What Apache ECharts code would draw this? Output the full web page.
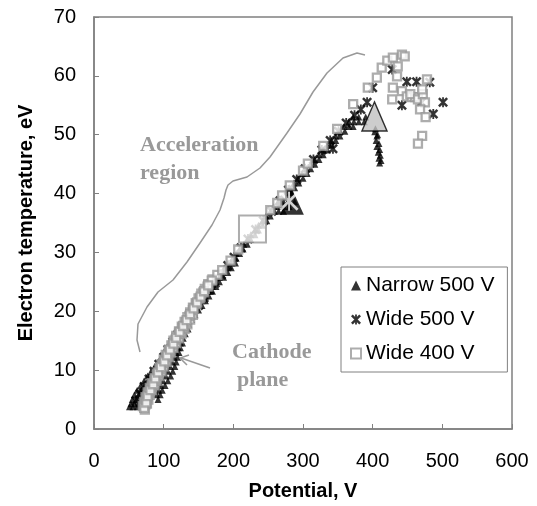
<!DOCTYPE html>
<html><head><meta charset="utf-8">
<script src="https://cdn.jsdelivr.net/npm/echarts@6/dist/echarts.min.js"></script>
<style>html,body{margin:0;padding:0;background:#fff}#c{width:537px;height:506px}</style>
</head><body><div id="c"></div>
<script>
// ---- axis settings ----
const xMin = 0, xMax = 600, xStep = 100;
const yMin = 0, yMax = 70, yStep = 10;
const seriesNames = ['Narrow 500 V', 'Wide 500 V', 'Wide 400 V'];

// ---- data: [potential V, electron temperature eV] ----
const narrow500 = [
[51,3.8],[56,3.8],[62,3.8],
[53,4.3],[58,4.3],[64,4.3],[70,4.3],
[55,5.0],[61,5.0],[67,5.0],[73,5.0],[92,5.0],
[58,5.8],[64,5.8],[70,5.8],[90,5.8],[95,5.8],
[62,6.6],[68,6.6],[74,6.6],[93,6.6],[98,6.6],
[67,7.4],[73,7.4],[79,7.4],[96,7.4],[102,7.4],
[72,8.2],[78,8.2],[84,8.2],[99,8.2],[106,8.2],
[77,9.0],[83,9.0],[88,9.0],[103,9.0],[110,9.0],
[82,9.8],[88,9.8],[93,9.8],[106,9.8],[113,9.8],
[87,10.6],[92,10.6],[97,10.6],[109,10.6],[116,10.6],
[92,11.4],[96,11.4],[101,11.4],[112,11.4],[118,11.4],
[96,12.2],[100,12.2],[105,12.2],[115,12.2],[120,12.2],
[100,13.0],[104,13.0],[109,13.0],[118,13.0],[122,13.0],
[104,13.8],[108,13.8],[113,13.8],[121,13.8],[124,13.8],
[108,14.6],[112,14.6],[117,14.6],[124,14.6],[127,14.6],
[112,15.4],[116,15.4],[121,15.4],[128,15.4],
[117,16.2],[121,16.2],[126,16.2],[131,16.2],
[122,17.0],[126,17.0],[131,17.0],[135,17.0],
[127,17.8],[131,17.8],[136,17.8],
[131,18.6],[135,18.6],[140,18.6],
[136,19.4],[140,19.4],[145,19.4],
[141,20.2],[145,20.2],[150,20.2],
[145,21.0],[150,21.0],[155,21.0],
[150,21.8],[155,21.8],[160,21.8],
[155,22.6],[160,22.6],[165,22.6],
[160,23.4],[165,23.4],[170,23.4],
[165,24.2],[170,24.2],[175,24.2],
[170,25.0],[175,25.0],[180,25.0],
[175,25.8],[180,25.8],[186,25.8],
[181,26.6],[186,26.6],[192,26.6],
[187,27.4],[192,27.4],[197,27.4],
[193,28.2],[198,28.2],[203,28.2],
[199,29.0],[204,29.0],[204,29.8],[209,29.8],
[209,30.6],[214,30.6],[215,31.4],[220,31.4],
[220,32.2],[225,32.2],[225,33.0],[231,33.0],
[231,33.8],[236,33.8],[236,34.6],[242,34.6],
[242,35.4],[248,35.4],[247,36.2],[253,36.2],
[253,37.0],[259,37.0],[265,37.0],[272,37.0],
[258,37.8],[265,37.8],[272,37.8],[280,37.8],
[264,38.6],[272,38.6],[280,38.6],[288,38.6],
[270,39.4],[278,39.4],[276,40.2],[283,40.2],
[281,41.0],[288,41.0],[287,41.8],[294,41.8],
[293,42.6],[300,42.6],[299,43.4],[306,43.4],
[305,44.2],[311,44.2],[311,45.0],[317,45.0],
[317,45.8],[323,45.8],[323,46.6],[329,46.6],
[329,47.4],[335,47.4],[335,48.2],[341,48.2],
[341,49.0],[347,49.0],[347,49.8],[353,49.8],
[353,50.6],[360,50.6],[359,51.4],[366,51.4],[372,51.4],
[366,52.2],[373,52.2],[380,52.2],[388,52.2],
[372,53.0],[380,53.0],[390,53.0],
[403,50.5],[406,49.8],[404,51.0],[407,50.0],[405,49.0],[409,48.5],
[406,48.0],[410,47.5],[408,47.0],[411,46.5],[409,46.0],[412,45.6],[410,45.2]
];

const wide500 = [
[60,4.8],[66,6.0],[72,7.2],[79,8.5],[86,9.8],[93,11.0],[100,12.2],[106,13.5],
[113,14.8],[120,16.0],[127,17.3],[134,18.5],[142,19.8],[150,21.0],[158,22.3],
[166,23.6],[174,24.8],[183,26.2],[192,27.8],[201,29.2],[211,30.8],[221,32.3],
[232,33.9],[243,35.4],[255,37.0],[267,38.8],[279,40.6],[291,42.4],[303,44.2],
[315,45.8],[327,47.4],[339,49.0],[343,47.6],[351,50.6],[362,52.0],[374,53.3],
[383,54.3],[392,55.5],[400,58.0],[428,61.1],[449,59.0],[463,59.0],[442,55.0],
[482,58.9],[487,53.5],[501,55.5],[470,55.5]
];

const wide400 = [
[70,3.9],[72,4.6],[74,5.4],[77,6.2],[80,7.0],[83,7.8],[87,8.6],[90,9.4],
[94,10.2],[97,11.0],[100,11.8],[103,12.6],[107,13.4],[111,14.2],[114,15.0],
[118,15.8],[122,16.6],[126,17.4],[130,18.2],[134,19.0],[138,19.8],[142,20.6],
[146,21.4],[150,22.2],[154,23.0],[159,23.8],[164,24.6],[170,25.4],[177,26.2],[184,27.0],
[76,4.3],[78,5.0],[80,5.8],[83,6.6],[87,7.4],[90,8.2],[93,9.0],[97,9.8],
[100,10.6],[104,11.4],[107,12.2],[110,13.0],[114,13.8],[118,14.6],[122,15.4],
[126,16.2],[130,17.0],[134,17.8],[138,18.6],[142,19.4],
[73,3.3],[74,4.2],[76,5.2],[79,6.2],[83,7.2],[87,8.2],[91,9.2],[96,10.2],
[100,11.2],[104,12.2],[108,13.2],[113,14.2],[117,15.2],[122,16.2],[127,17.2],
[132,18.2],[137,19.2],[142,20.2],[147,21.2],[152,22.2],[157,23.2],[163,24.2],[169,25.2],
[72,3.6],[75,4.5],[77,5.6],[81,6.6],[85,7.6],[88,8.6],[92,9.6],[96,10.5],
[101,11.5],[105,12.5],[109,13.5],[114,14.5],[118,15.5],[123,16.5],[128,17.5],
[133,18.5],[138,19.5],[143,20.5],[148,21.5],[153,22.5],[158,23.4],[164,24.4],
[196,28.6],[207,30.5],[253,37.2],[263,38.4],[270,39.7],[281,41.4],[300,43.9],
[307,45.1],[329,48.1],[349,51.0],[372,55.2],
[393,58.0],[406,59.7],[413,61.4],[421,62.6],[429,63.1],[442,63.6],[446,63.3],
[436,61.6],[435,59.9],[429,58.0],[428,56.0],[442,57.4],[449,56.5],[456,56.4],
[461,56.4],[454,56.9],[465,56.0],[472,56.9],[478,59.4],[471,57.7],[475,55.5],
[468,54.3],[476,53.0],[471,49.8],[465,48.5]
];

// large "cathode plane" markers
const bigGreyTriangle = [[402.6,53.1]];
const bigBlackTriangle = [[284,38.6]];
const bigWhiteStar = [[280,38.7]];
const bigSquare = [[227.5,34.0]];

const starPath = 'path://M0,3.5L3.5,0L20,16.5L16.5,20ZM16.5,0L20,3.5L3.5,20L0,16.5ZM8.2,0H11.8V20H8.2Z';
const thinStar = 'path://M0,2L2,0L20,18L18,20ZM18,0L20,2L2,20L0,18ZM9,0H11V20H9Z';
const sans = '"Liberation Sans", Arial, sans-serif';
const serif = '"Liberation Serif", "Times New Roman", serif';
const grey = '#999999';
const axisGrey = '#808080';

const chart = echarts.init(document.getElementById('c'), null, {renderer: 'canvas'});
chart.setOption({
  animation: false,
  backgroundColor: '#fff',
  grid: {left: 94, right: 25, top: 17, bottom: 73, show: true, borderColor: axisGrey, borderWidth: 1.5, backgroundColor: 'transparent'},
  xAxis: {
    type: 'value', min: xMin, max: xMax, interval: xStep,
    name: 'Potential, V', nameLocation: 'middle', nameGap: 52,
    nameTextStyle: {fontFamily: sans, fontWeight: 'bold', fontSize: 20, color: '#000'},
    axisLine: {show: true, lineStyle: {color: axisGrey, width: 1.5}},
    axisTick: {show: true, inside: true, length: 5, lineStyle: {color: axisGrey, width: 1}},
    axisLabel: {margin: 22, fontFamily: sans, fontSize: 20, color: '#000'},
    splitLine: {show: false}
  },
  yAxis: {
    type: 'value', min: yMin, max: yMax, interval: yStep,
    name: 'Electron temperature, eV', nameLocation: 'middle', nameGap: 58,
    nameTextStyle: {fontFamily: sans, fontWeight: 'bold', fontSize: 20, color: '#000'},
    axisLine: {show: true, lineStyle: {color: axisGrey, width: 1.5}},
    axisTick: {show: true, inside: true, length: 5, lineStyle: {color: axisGrey, width: 1}},
    axisLabel: {margin: 18, fontFamily: sans, fontSize: 20, color: '#000'},
    splitLine: {show: false}
  },
  legend: {
    data: seriesNames, orient: 'vertical', left: 341, top: 267,
    backgroundColor: '#fff', borderColor: axisGrey, borderWidth: 1,
    padding: [8, 13, 8, 9], itemGap: 13, itemWidth: 10, itemHeight: 10,
    textStyle: {fontFamily: sans, fontSize: 21, color: '#000'},
    selectedMode: false
  },
  series: [
    {name: seriesNames[0], type: 'scatter', data: narrow500, symbol: 'triangle', symbolSize: 7,
     itemStyle: {color: '#000'}, silent: true},
    {name: seriesNames[1], type: 'scatter', data: wide500, symbol: starPath, symbolSize: 10,
     itemStyle: {color: '#000'}, silent: true},
    {name: 'bigBlack', type: 'scatter', data: bigBlackTriangle, symbol: 'triangle', symbolSize: [24, 26],
     itemStyle: {color: '#000'}, silent: true},
    {name: 'bigStar', type: 'scatter', data: bigWhiteStar, symbol: thinStar, symbolSize: 19,
     itemStyle: {color: '#fff'}, silent: true},
    {name: seriesNames[2], type: 'scatter', data: wide400, symbol: 'rect', symbolSize: 8,
     itemStyle: {color: '#fff', borderColor: grey, borderWidth: 2.3}, silent: true},
    {name: 'bigSquare', type: 'scatter', data: bigSquare, symbol: 'rect', symbolSize: 27,
     itemStyle: {color: '#fff', borderColor: grey, borderWidth: 2}, silent: true},
    {name: 'bigGrey', type: 'scatter', data: bigGreyTriangle, symbol: 'triangle', symbolSize: [25, 29],
     itemStyle: {color: '#c0c0c0', borderColor: '#000', borderWidth: 1.5}, silent: true}
  ],
  graphic: [
    {type: 'polyline', silent: true, z: 100,
     shape: {points: [[140,352],[137,340],[138,324],[147,307],[158,292],[173,280],[187,262],[200,243],[212,225],[220,210],[224,198],[226,190],[228,185],[233,181],[247,177],[260,168],[270,157],[287,133],[300,114],[313,92],[327,73],[343,58],[357,53],[365,55]]},
     style: {stroke: grey, lineWidth: 1.5, fill: null, lineJoin: 'round'}},
    {type: 'polyline', silent: true, z: 100,
     shape: {points: [[210,368],[181,358]]},
     style: {stroke: grey, lineWidth: 1.5, fill: null}},
    {type: 'polyline', silent: true, z: 100,
     shape: {points: [[189,355],[180,358],[187,365]]},
     style: {stroke: grey, lineWidth: 1.5, fill: null}},
    {type: 'text', x: 140, y: 145, silent: true, z: 100,
     style: {text: 'Acceleration', font: 'bold 22px ' + serif, fill: grey, align: 'left', verticalAlign: 'middle'}},
    {type: 'text', x: 140, y: 173, silent: true, z: 100,
     style: {text: 'region', font: 'bold 22px ' + serif, fill: grey, align: 'left', verticalAlign: 'middle'}},
    {type: 'text', x: 232, y: 352, silent: true, z: 100,
     style: {text: 'Cathode', font: 'bold 22px ' + serif, fill: grey, align: 'left', verticalAlign: 'middle'}},
    {type: 'text', x: 237, y: 380, silent: true, z: 100,
     style: {text: 'plane', font: 'bold 22px ' + serif, fill: grey, align: 'left', verticalAlign: 'middle'}}
  ]
});
</script></body></html>
